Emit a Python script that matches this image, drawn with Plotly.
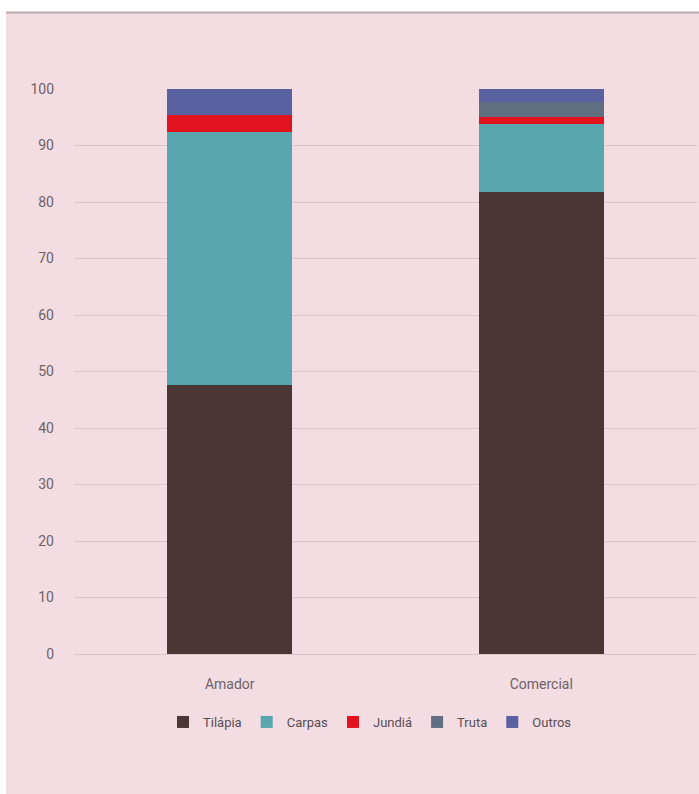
import plotly.graph_objects as go

categories = ["Amador", "Comercial"]
series_names = ["Tilápia", "Carpas", "Jundiá", "Truta", "Outros"]
tilapia = [47.6, 81.8]
carpas = [44.8, 12.0]
jundia = [3.0, 1.2]
truta = [0.0, 2.7]
outros = [4.6, 2.3]
colors = ["#4B3535", "#58A7AF", "#E2121F", "#5F6E80", "#5A61A0"]
y_ticks = [0, 10, 20, 30, 40, 50, 60, 70, 80, 90, 100]

W, H = 699, 794
ML, MR, MT, MB = 74, 2, 89, 140
pw = W - ML - MR
ph = H - MT - MB

def px_x(p):
    return (p - ML) / pw

def px_y(p):
    return (H - MB - p) / ph

FONT = "Roboto, Liberation Sans, sans-serif"

fig = go.Figure()
for name, vals, col in zip(series_names, [tilapia, carpas, jundia, truta, outros], colors):
    fig.add_trace(go.Bar(x=categories, y=vals, name=name,
                         marker=dict(color=col, line=dict(width=0))))

fig.update_layout(
    width=W, height=H,
    margin=dict(l=ML, r=MR, t=MT, b=MB, pad=0),
    barmode="stack", bargap=0.6,
    paper_bgcolor="white", plot_bgcolor="rgba(0,0,0,0)",
    font=dict(family=FONT, size=14, color="#6E6266"),
    xaxis=dict(showgrid=False, showline=False, ticks="", tickfont=dict(size=14, color="#6E6266"),
               ticklabelstandoff=20),
    yaxis=dict(range=[0, 100], tickvals=y_ticks, showgrid=True, gridcolor="#D5C8CC", gridwidth=1,
               zeroline=True, zerolinecolor="#D5C8CC", zerolinewidth=1, showline=False,
               tickfont=dict(size=14, color="#6E6266"), ticklabelstandoff=19),
    showlegend=True,
    legend=dict(orientation="h", x=px_x(370), xanchor="center", y=px_y(722), yanchor="middle",
                font=dict(size=13, color="#5A4E52"), bgcolor="rgba(0,0,0,0)",
                itemwidth=30, traceorder="normal"),
    shapes=[
        dict(type="rect", xref="paper", yref="paper", x0=px_x(6), x1=px_x(705),
             y0=px_y(800), y1=px_y(12), fillcolor="#F3DCE2", line=dict(width=0), layer="below"),
        dict(type="line", xref="paper", yref="paper", x0=px_x(6), x1=px_x(705),
             y0=px_y(12.5), y1=px_y(12.5), line=dict(color="#BBA9AE", width=2), layer="below"),
    ],
)

fig.write_html("out.html")
